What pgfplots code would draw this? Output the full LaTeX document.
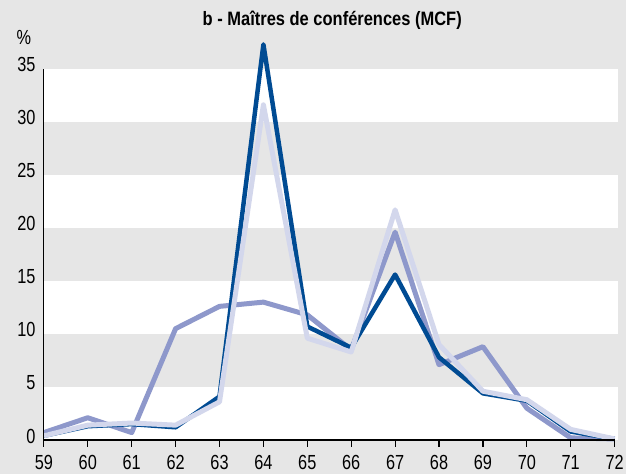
\documentclass[border=0pt]{standalone}
\usepackage{fontspec}
\setmainfont{Liberation Sans}[FakeStretch=0.85]
\newfontfamily\tickfont{Liberation Sans}[FakeStretch=0.8]
\usepackage{pgfplots}
\pgfplotsset{compat=1.18}
\definecolor{bg}{HTML}{E6E6E6}
\definecolor{dblue}{HTML}{004B93}
\definecolor{mblue}{HTML}{8E98CB}
\definecolor{lblue}{HTML}{D3D7EC}
\begin{document}
\begin{tikzpicture}
\fill[bg] (0,0) rectangle (627bp,475bp);
\begin{axis}[axis on top,
  at={(44bp,34bp)}, anchor=south west,
  x=44bp, y=10.63bp,
  xmin=59, xmax=72, ymin=0, ymax=35,
  clip=false,
  axis x line*=bottom, axis y line*=left,
  axis line style={black, line width=1.2bp},
  xtick={59,...,72}, ytick={0,5,...,35},
  tick align=outside,
  xtick style={black, line width=1.2bp},
  major tick length=7bp,
  ytick style={draw=none},
  /pgf/number format/assume math mode=true,
  ticklabel style={font=\tickfont\fontsize{20.5}{20.5}\selectfont},
  yticklabel style={yshift=4bp, xshift=2bp},
  xticklabel style={yshift=-5bp},
  line join=round,
]
\fill[white] (axis cs:59,0) rectangle (axis cs:72.07,5);
\fill[white] (axis cs:59,10) rectangle (axis cs:72.07,15);
\fill[white] (axis cs:59,20) rectangle (axis cs:72.07,25);
\fill[white] (axis cs:59,30) rectangle (axis cs:72.07,35);
% medium
\addplot[mblue, line width=5bp, line join=round] coordinates {
(59,0.7) (60,2.1) (61,0.7) (62,10.5) (63,12.6) (64,13.0) (65,11.8) (66,8.5) (67,19.6) (68,7.1) (69,8.8) (70,3.0) (71,0.2) (72,0.1)};
% dark
\addplot[dblue, line width=4.5bp, line join=round] coordinates {
(59,0.4) (60,1.3) (61,1.5) (62,1.2) (63,4.1) (64,37.3) (65,10.7) (66,8.7) (67,15.6) (68,7.8) (69,4.4) (70,3.7) (71,0.8) (72,0.1)};
% light
\addplot[lblue, line width=5bp, line join=round] coordinates {
(59,0.4) (60,1.4) (61,1.6) (62,1.4) (63,3.6) (64,31.6) (65,9.6) (66,8.3) (67,21.7) (68,9.0) (69,4.6) (70,3.8) (71,1.0) (72,0.1)};
\end{axis}
\node[font=\bfseries\fontsize{19.5}{19.5}\selectfont] at (333bp,455bp) {b - Maîtres de conférences (MCF)};
\node[font=\tickfont\fontsize{20.5}{20.5}\selectfont] at (24bp,437bp) {\%};
\end{tikzpicture}
\end{document}
